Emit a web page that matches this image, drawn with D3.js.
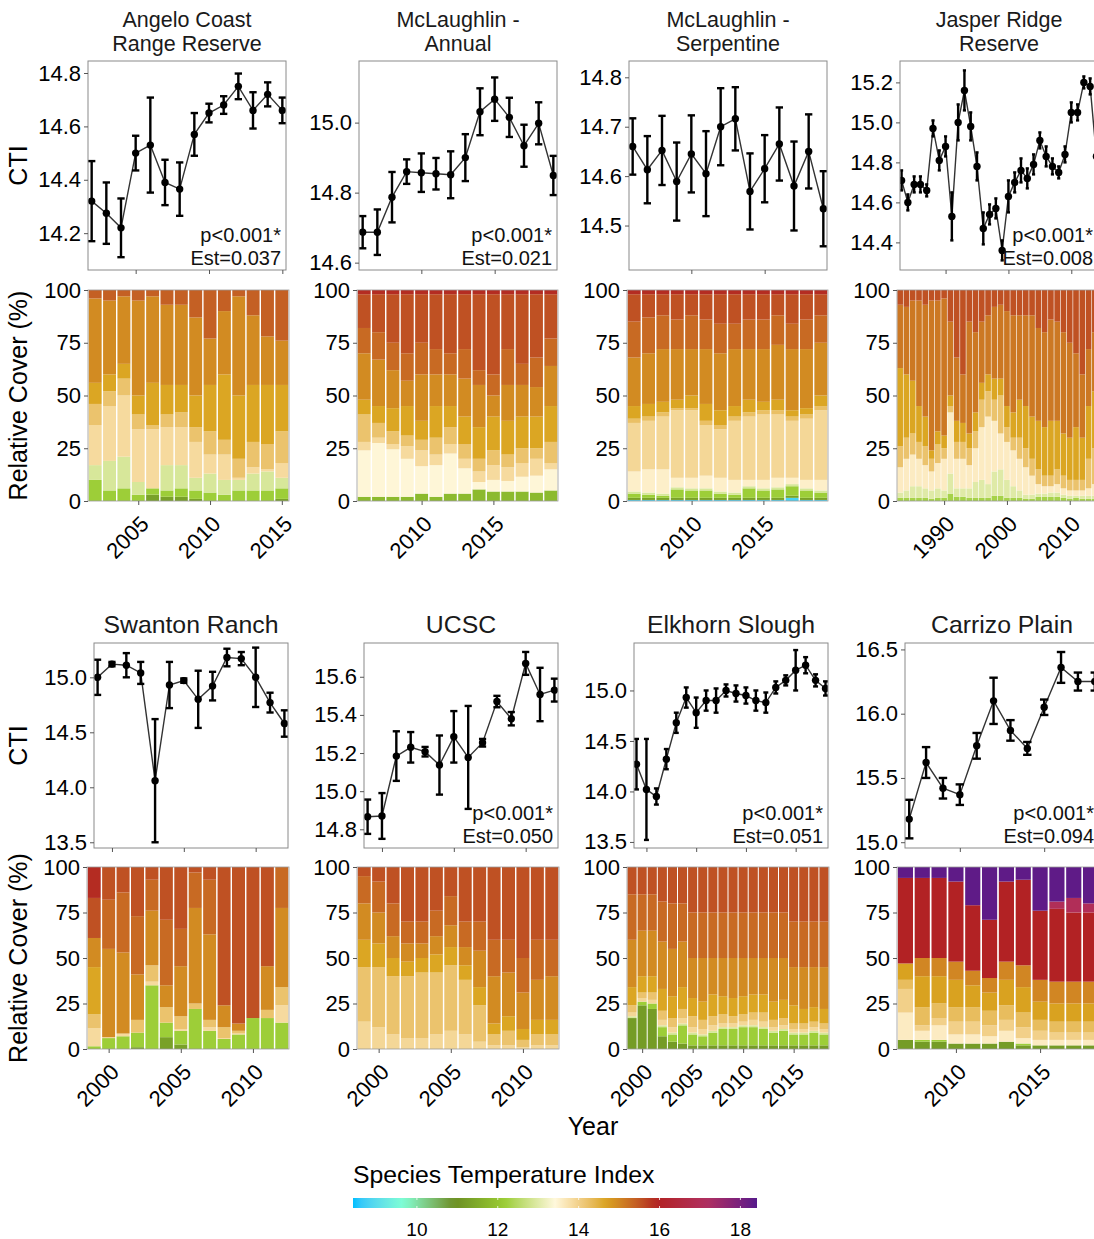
<!DOCTYPE html>
<html>
<head>
<meta charset="utf-8">
<script src="https://cdn.jsdelivr.net/npm/d3@7"></script>
<style>
body { margin: 0; background: #fff; }
svg { display: block; font-family: "Liberation Sans", Arial, sans-serif; }
</style>
</head>
<body>
<svg id="chart" width="1094" height="1239"></svg>
<script>
// ---- data: CTI (mean, +/- error) and relative cover per STI band ----
var angeloStart = 2002;
var angeloCTI = [14.32, 14.275, 14.22, 14.50, 14.53, 14.39, 14.365, 14.57, 14.65, 14.68, 14.75, 14.66, 14.72, 14.66];
var angeloSE  = [0.15, 0.115, 0.11, 0.065, 0.178, 0.085, 0.10, 0.08, 0.035, 0.033, 0.048, 0.068, 0.045, 0.048];
var angeloSTI = [11.3, 12.2, 12.9, 13.85, 14.2, 14.65, 14.95, 15.4];
var angeloCover = [
  [0, 10, 7, 19, 10, 10, 40, 4], [0, 5, 14, 26, 7, 8, 35, 5], [0, 6, 15, 29, 8, 7, 32, 3],
  [0, 3, 6, 25, 7, 9, 45, 5], [3, 3, 0, 28, 2, 20, 41, 3], [2, 3, 12, 18, 6, 14, 38, 7],
  [2, 4, 11, 18, 7, 13, 38, 7], [1, 4, 6, 17, 7, 15, 37, 13], [0, 4, 9, 9, 11, 22, 22, 23],
  [0, 3, 7, 12, 7, 31, 30, 10], [0, 5, 5, 1, 9, 30, 47, 3], [0, 5, 8, 3, 12, 27, 33, 12],
  [0, 5, 9, 1, 12, 28, 23, 22], [1, 5, 5, 7, 15, 22, 21, 24]
];

var mclAnnStart = 2006;
var mclAnnCTI = [14.687, 14.687, 14.787, 14.86, 14.857, 14.854, 14.851, 14.90, 15.031, 15.067, 15.015, 14.934, 14.998, 14.849];
var mclAnnSE  = [0.046, 0.065, 0.072, 0.035, 0.055, 0.045, 0.067, 0.067, 0.067, 0.062, 0.056, 0.06, 0.06, 0.056];
var mclAnnSTI = [11.8, 13.45, 13.85, 14.2, 14.65, 14.95, 15.3, 15.55, 15.85];
var mclAnnCover = [
  [2, 22, 4, 13, 7, 22, 12, 16, 2], [2, 25.5, 2.5, 7, 8, 22, 13, 18, 2], [2, 22.5, 2.5, 6, 11, 18, 13, 23, 2],
  [2, 18, 6, 5, 14, 12, 13, 28, 2], [3.5, 13, 7.5, 5, 9, 22, 15, 23, 2], [2, 15, 5, 8, 15, 15, 12, 26, 2],
  [3.5, 19, 4.5, 8, 10, 15, 10, 28, 2], [3.5, 12, 4.5, 7, 13, 18, 14, 26, 2], [5.5, 3.5, 5, 6, 15, 20, 7, 36, 2],
  [4.5, 5.5, 7, 7, 16, 10, 10, 38, 2], [4.5, 5, 6.5, 6, 16, 17, 17, 26, 2], [4.5, 7, 6.5, 7, 15, 15, 10, 33, 2],
  [4, 8, 8, 5, 15, 14, 14, 30, 2], [5, 10, 3, 10, 17, 19, 13, 21, 2]
];

var mclSerpStart = 2006;
var mclSerpCTI = [14.66, 14.613, 14.652, 14.589, 14.645, 14.605, 14.70, 14.716, 14.569, 14.615, 14.665, 14.58, 14.65, 14.534];
var mclSerpSE  = [0.057, 0.068, 0.07, 0.079, 0.078, 0.086, 0.078, 0.064, 0.077, 0.068, 0.074, 0.09, 0.075, 0.076];
var mclSerpSTI = [8.8, 11.3, 12.2, 12.9, 13.55, 13.9, 14.25, 14.65, 14.95, 15.3, 15.55, 15.85];
var mclSerpCover = [
  [0.5, 1, 2, 1, 9.5, 23, 2, 6, 23, 17, 13, 2], [0.5, 1, 1.5, 1, 11, 23, 2, 6, 24, 17, 11, 2],
  [0.5, 1, 1, 1, 11.5, 25, 2, 5, 25, 16, 10, 2], [0.5, 1, 4, 1, 4.5, 32, 1, 4, 24, 14, 12, 2],
  [0.5, 1, 3.5, 1, 5, 32, 1, 6, 22, 16, 10, 2], [0.5, 1, 3.5, 1, 6, 24, 2, 8, 26, 14, 12, 2],
  [0.5, 1, 2, 1, 6.5, 23, 2, 7, 27, 14, 14, 2], [0.5, 1, 1.5, 1, 6, 28, 2, 5, 27, 12, 14, 2],
  [0.5, 1, 4.5, 1, 3, 30, 2, 6, 24, 14, 12, 2], [0.5, 1, 3.5, 1, 4, 31, 2, 4, 25, 14, 12, 2],
  [0.5, 1, 4, 1, 4.5, 30, 2, 5, 26, 14, 10, 2], [1.5, 1, 4.5, 1, 3, 27, 2, 3, 29, 12, 14, 2],
  [0.5, 1, 3.5, 1, 4, 29, 2, 3, 28, 14, 12, 2], [0.5, 1, 2.5, 1, 5, 33, 2, 5, 25, 13, 10, 2]
];

var jasperStart = 1983;
var jasperCTI = [14.71, 14.60, 14.69, 14.69, 14.66, 14.97, 14.81, 14.88, 14.53, 15.00, 15.16, 14.98, 14.78, 14.47, 14.54, 14.57,
                 14.36, 14.63, 14.70, 14.76, 14.72, 14.79, 14.91, 14.83, 14.78, 14.75, 14.84, 15.05, 15.05, 15.20, 15.18, 14.83];
var jasperSE  = [0.05, 0.04, 0.04, 0.04, 0.03, 0.04, 0.05, 0.05, 0.12, 0.09, 0.10, 0.07, 0.07, 0.08, 0.05, 0.05,
                 0.05, 0.08, 0.05, 0.06, 0.05, 0.05, 0.04, 0.05, 0.04, 0.03, 0.04, 0.05, 0.04, 0.03, 0.04, 0.03];
var jasperSTI = [12.3, 13.0, 13.6, 14.2, 14.65, 15.15, 15.55];
var jasperCover = [
  [1.5, 2.5, 12, 10, 37, 30, 7], [1.5, 3.5, 15, 10, 30, 32, 8], [1.5, 5.5, 15, 10, 25, 38, 5], [1.5, 5.5, 13, 8, 17, 50, 5],
  [1.5, 4.5, 11, 9, 14, 53, 7], [1, 4, 9, 6, 4, 71, 5], [1.5, 4.5, 12, 9, 6, 62, 5], [1.5, 3.5, 15, 5, 6, 65, 4],
  [3.5, 9.5, 29, 3, 5, 35, 15], [2, 4, 14, 8, 10, 30, 32], [2, 4, 14, 8, 9, 23, 40], [1.5, 4.5, 11, 8, 7, 53, 15],
  [1.5, 7.5, 16, 8, 9, 38, 20], [1.5, 8.5, 25, 13, 8, 29, 15], [1.5, 6.5, 32, 12, 8, 28, 12], [2.5, 11.5, 24, 10, 10, 34, 8],
  [2.5, 12.5, 17, 18, 8, 35, 7], [1.5, 8.5, 18, 7, 10, 45, 10], [1.5, 5.5, 17, 6, 12, 46, 12], [1.5, 3.5, 15, 10, 18, 40, 12],
  [1, 2, 13, 9, 20, 43, 12], [1, 2, 9, 8, 20, 48, 12], [2, 1.5, 4.5, 7, 23, 44, 18], [2, 1.5, 3.5, 5, 23, 45, 20],
  [2, 2, 3, 5, 26, 48, 14], [2, 2, 4, 7, 23, 47, 15], [1.5, 1.5, 3, 6, 20, 48, 20], [1, 1.5, 2.5, 5, 20, 45, 25],
  [1.5, 1, 2.5, 5, 25, 35, 30], [1, 1.5, 2.5, 5, 20, 30, 40], [1, 1.5, 3.5, 14, 25, 27, 28], [1, 1.5, 5.5, 17, 27, 28, 20]
];

var swantonStart = 1999;
var swantonCTI = [15.0, 15.12, 15.11, 15.04, 14.06, 14.93, 14.97, 14.80, 14.92, 15.18, 15.17, 15.0, 14.77, 14.58];
var swantonSE  = [0.16, 0.02, 0.11, 0.1, 0.56, 0.21, 0.02, 0.26, 0.13, 0.08, 0.06, 0.27, 0.09, 0.12];
var swantonSTI = [11.3, 12.2, 13.85, 14.2, 14.65, 14.95, 15.3, 15.55, 15.85];
var swantonCover = [
  [0, 1.5, 10, 7.5, 26, 16, 0, 22, 17], [0, 6, 0.5, 0, 0, 48.5, 27, 18, 0], [0, 7, 1.5, 0, 0, 44.5, 33, 14, 0],
  [1, 8, 0, 7, 0, 25, 32, 27, 0], [0, 35, 2, 9, 0, 30, 17, 7, 0], [6.5, 8, 0, 8.5, 0, 12, 36, 29, 0],
  [2.5, 7.5, 1, 7, 0, 27.5, 20.5, 34, 0], [0, 22, 0, 3, 0, 52.5, 19.5, 3, 0], [0, 10, 2, 4, 0, 47, 30, 7, 0],
  [0, 5.5, 0.5, 6, 0, 12, 0, 76, 0], [0, 8, 0.5, 1.5, 0, 4, 0, 86, 0], [0, 17, 0, 0, 0, 0, 0, 83, 0],
  [0, 17, 0, 4.5, 0, 24, 0, 54.5, 0], [0, 14.5, 9.5, 10, 0, 43.5, 22.5, 0, 0]
];

var ucscStart = 1999;
var ucscCTI = [14.866, 14.87, 15.184, 15.23, 15.207, 15.137, 15.285, 15.177, 15.254, 15.47, 15.38, 15.67, 15.507, 15.53];
var ucscSE  = [0.09, 0.12, 0.13, 0.08, 0.025, 0.155, 0.135, 0.27, 0.02, 0.03, 0.035, 0.06, 0.14, 0.06];
var ucscSTI = [13.9, 14.2, 14.65, 14.95, 15.3, 15.55];
var ucscCover = [
  [15, 30, 15, 20, 15, 5], [12, 33, 13, 17, 17, 8], [8, 32, 10, 12, 18, 20], [6, 34, 8, 10, 12, 30],
  [6, 36, 8, 8, 12, 30], [8, 34, 10, 10, 14, 24], [10, 36, 10, 12, 16, 16], [8, 30, 8, 10, 14, 30],
  [4, 20, 10, 20, 16, 30], [2, 6, 6, 26, 20, 40], [2, 8, 8, 24, 18, 40], [1, 4, 6, 20, 19, 50],
  [2, 6, 8, 22, 22, 40], [2, 6, 8, 24, 20, 40]
];

var elkhornStart = 1999;
var elkhornCTI = [14.27, 14.02, 13.95, 14.32, 14.68, 14.93, 14.78, 14.9, 14.9, 15.0, 14.97, 14.95, 14.9, 14.88, 15.03, 15.1, 15.2, 15.25, 15.1, 15.02];
var elkhornSE  = [0.25, 0.5, 0.08, 0.1, 0.1, 0.1, 0.15, 0.1, 0.12, 0.06, 0.08, 0.08, 0.1, 0.1, 0.06, 0.05, 0.2, 0.08, 0.06, 0.07];
var elkhornSTI = [11.2, 12.2, 12.9, 13.9, 14.2, 14.65, 14.95, 15.3, 15.55];
var elkhornCover = [
  [17, 0, 1, 2, 4, 10, 26, 25, 15], [24, 2, 0, 2, 3, 9, 25, 20, 15], [22, 3, 0, 2, 4, 9, 25, 20, 15], [7, 5, 1, 3, 5, 12, 26, 22, 19],
  [4, 4, 1, 3, 5, 12, 26, 25, 20], [3, 10, 1, 3, 5, 12, 25, 21, 20], [2, 6, 1, 3, 6, 10, 22, 25, 25], [2, 5, 1, 3, 5, 10, 24, 25, 25],
  [2, 7, 1, 3, 5, 12, 20, 25, 25], [2, 9, 1, 2, 5, 10, 21, 25, 25], [2, 9, 1, 2, 4, 10, 22, 25, 25], [2, 10, 1, 2, 4, 10, 21, 25, 25],
  [2, 10, 1, 3, 4, 10, 20, 25, 25], [2, 9, 1, 3, 5, 10, 20, 25, 25], [2, 7, 1, 2, 4, 10, 24, 25, 25], [2, 8, 1, 2, 4, 10, 23, 25, 25],
  [2, 6, 1, 2, 3, 10, 21, 25, 30], [2, 6, 1, 2, 3, 8, 23, 25, 30], [2, 7, 1, 2, 3, 8, 22, 25, 30], [2, 6, 1, 2, 3, 8, 23, 25, 30]
];

var carrizoStart = 2007;
var carrizoCTI = [15.18, 15.62, 15.42, 15.37, 15.75, 16.1, 15.87, 15.73, 16.05, 16.36, 16.25, 16.25];
var carrizoSE  = [0.15, 0.12, 0.08, 0.08, 0.1, 0.18, 0.08, 0.05, 0.06, 0.12, 0.07, 0.07];
var carrizoSTI = [11.2, 12.2, 13.6, 14.0, 14.3, 14.7, 15.0, 15.95, 17.0, 18.3];
var carrizoCover = [
  [5, 0, 15, 13, 5, 9, 0, 47, 0, 6], [4, 1, 5, 3, 10, 17, 10, 44, 0, 6], [4, 1, 8, 4, 8, 15, 10, 44, 0, 6],
  [3, 0, 5, 7, 8, 15, 10, 44, 0, 8], [3, 0, 5, 7, 8, 12, 8, 36, 0, 21], [3, 0, 4, 6, 8, 10, 8, 32, 0, 29],
  [4, 0, 6, 6, 8, 14, 10, 44, 0, 8], [2, 1, 3, 6, 8, 14, 12, 47, 0, 7], [2, 0, 3, 5, 6, 10, 12, 38, 0, 24],
  [2, 0, 3, 4, 6, 10, 12, 40, 4, 19], [2, 0, 3, 4, 6, 10, 12, 38, 8, 17], [2, 0, 3, 4, 6, 10, 12, 38, 5, 20]
];

var legendTicks = [10, 12, 14, 16, 18];
var coverTicks = [0, 25, 50, 75, 100];

var panels = [
  {title: ["Angelo Coast", "Range Reserve"], start: angeloStart, cti: angeloCTI, se: angeloSE, sti: angeloSTI, cover: angeloCover,
   ylim: [14.062, 14.845], yticks: [14.2, 14.4, 14.6, 14.8], xticks: [2005, 2010, 2015], stat: ["p<0.001*", "Est=0.037"]},
  {title: ["McLaughlin -", "Annual"], start: mclAnnStart, cti: mclAnnCTI, se: mclAnnSE, sti: mclAnnSTI, cover: mclAnnCover,
   ylim: [14.579, 15.176], yticks: [14.6, 14.8, 15.0], xticks: [2010, 2015], stat: ["p<0.001*", "Est=0.021"]},
  {title: ["McLaughlin -", "Serpentine"], start: mclSerpStart, cti: mclSerpCTI, se: mclSerpSE, sti: mclSerpSTI, cover: mclSerpCover,
   ylim: [14.41, 14.833], yticks: [14.5, 14.6, 14.7, 14.8], xticks: [2010, 2015], stat: null},
  {title: ["Jasper Ridge", "Reserve"], start: jasperStart, cti: jasperCTI, se: jasperSE, sti: jasperSTI, cover: jasperCover,
   ylim: [14.262, 15.307], yticks: [14.4, 14.6, 14.8, 15.0, 15.2], xticks: [1990, 2000, 2010], stat: ["p<0.001*", "Est=0.008"]},
  {title: ["Swanton Ranch"], start: swantonStart, cti: swantonCTI, se: swantonSE, sti: swantonSTI, cover: swantonCover,
   ylim: [13.448, 15.312], yticks: [13.5, 14.0, 14.5, 15.0], xticks: [2000, 2005, 2010], stat: null},
  {title: ["UCSC"], start: ucscStart, cti: ucscCTI, se: ucscSE, sti: ucscSTI, cover: ucscCover,
   ylim: [14.702, 15.777], yticks: [14.8, 15.0, 15.2, 15.4, 15.6], xticks: [2000, 2005, 2010], stat: ["p<0.001*", "Est=0.050"]},
  {title: ["Elkhorn Slough"], start: elkhornStart, cti: elkhornCTI, se: elkhornSE, sti: elkhornSTI, cover: elkhornCover,
   ylim: [13.44, 15.47], yticks: [13.5, 14.0, 14.5, 15.0], xticks: [2000, 2005, 2010, 2015], stat: ["p<0.001*", "Est=0.051"]},
  {title: ["Carrizo Plain"], start: carrizoStart, cti: carrizoCTI, se: carrizoSE, sti: carrizoSTI, cover: carrizoCover,
   ylim: [14.955, 16.55], yticks: [15.0, 15.5, 16.0, 16.5], xticks: [2010, 2015], stat: ["p<0.001*", "Est=0.094"]}
];

// ---- layout ----
var rows = [
  {titleY: [27, 51], ctiY: 61, ctiH: 209, barY: 290, barH: 211, ctiX: [88, 359, 629, 900], ctiW: 198,
   barX: [88, 357, 627, 897], barW: 201, font: 22, titleFont: 21.5},
  {titleY: [633], ctiY: 643, ctiH: 205, barY: 867, barH: 182, ctiX: [94, 364, 634, 905], ctiW: 194,
   barX: [87, 357, 627, 897], barW: 202, font: 22, titleFont: 24.8}
];

var svg = d3.select("#chart");

// colour scale as in scale_fill_gradientn
var stiDomain = [8.42, 18.41];
var stiColors = ["#00BFFF", "#7FFFD4", "#6B8E23", "#9ACD32", "#FFF8DC", "#DAA520", "#B22222", "#B03060", "#551A8B"];
var color = d3.scaleLinear()
    .domain(stiColors.map(function(c, i) { return stiDomain[0] + i * (stiDomain[1] - stiDomain[0]) / (stiColors.length - 1); }))
    .range(stiColors)
    .interpolate(d3.interpolateLab);

function styleAxis(g, size) {
  g.select(".domain").remove();
  g.selectAll(".tick line").attr("stroke", "#555").attr("stroke-width", 1);
  g.selectAll(".tick text").attr("fill", "#000").attr("font-size", size)
    .attr("font-family", "Liberation Sans, Arial, sans-serif");
}

panels.forEach(function(p, idx) {
  var row = rows[Math.floor(idx / 4)], col = idx % 4;
  var n = p.cti.length;
  var years = p.cti.map(function(d, i) { return p.start + i; });
  var cx = row.ctiX[col], cw = row.ctiW, cy = row.ctiY, ch = row.ctiH;
  var bx = row.barX[col], bw = row.barW, by = row.barY, bh = row.barH;
  var g = svg.append("g");

  // title
  var mid = cx + cw / 2;
  p.title.forEach(function(t, j) {
    g.append("text").attr("x", mid).attr("y", row.titleY[j]).attr("text-anchor", "middle")
      .attr("font-size", row.titleFont).attr("fill", "#1a1a1a").text(t);
  });

  // ---- CTI panel ----
  var x = d3.scaleLinear().domain([p.start - 0.25, p.start + n - 1 + 0.25]).range([cx, cx + cw]);
  var y = d3.scaleLinear().domain(p.ylim).range([cy + ch, cy]);
  var clipId = "clip" + idx;
  g.append("clipPath").attr("id", clipId).append("rect")
    .attr("x", cx).attr("y", cy).attr("width", cw).attr("height", ch);
  var plot = g.append("g").attr("clip-path", "url(#" + clipId + ")");

  plot.append("path")
    .datum(p.cti)
    .attr("fill", "none").attr("stroke", "#333").attr("stroke-width", 1.4)
    .attr("d", d3.line().x(function(d, i) { return x(years[i]); }).y(function(d) { return y(d); }));

  var eb = plot.selectAll(".eb").data(p.cti).enter().append("g").attr("class", "eb")
    .attr("stroke", "#000").attr("stroke-width", 2.4);
  eb.append("line")
    .attr("x1", function(d, i) { return x(years[i]); }).attr("x2", function(d, i) { return x(years[i]); })
    .attr("y1", function(d, i) { return y(d - p.se[i]); }).attr("y2", function(d, i) { return y(d + p.se[i]); });
  [-1, 1].forEach(function(s) {
    eb.append("line")
      .attr("x1", function(d, i) { return x(years[i] - 0.25); }).attr("x2", function(d, i) { return x(years[i] + 0.25); })
      .attr("y1", function(d, i) { return y(d + s * p.se[i]); }).attr("y2", function(d, i) { return y(d + s * p.se[i]); });
  });
  plot.selectAll(".pt").data(p.cti).enter().append("circle")
    .attr("cx", function(d, i) { return x(years[i]); }).attr("cy", function(d) { return y(d); })
    .attr("r", 3.7).attr("fill", "#000");

  g.append("rect").attr("x", cx).attr("y", cy).attr("width", cw).attr("height", ch)
    .attr("fill", "none").attr("stroke", "#8a8a8a").attr("stroke-width", 1);

  g.append("g").attr("transform", "translate(" + cx + ",0)")
    .call(d3.axisLeft(y).tickValues(p.yticks).tickSize(4).tickPadding(3).tickFormat(d3.format(".1f")))
    .call(styleAxis, row.font);
  g.append("g").attr("transform", "translate(0," + (cy + ch) + ")")
    .call(d3.axisBottom(x).tickValues(p.xticks).tickSize(4).tickFormat(""))
    .call(styleAxis, row.font);

  if (p.stat) {
    g.append("text").attr("x", cx + cw - 5).attr("y", cy + ch - 28).attr("text-anchor", "end")
      .attr("font-size", 20).attr("fill", "#111").text(p.stat[0]);
    g.append("text").attr("x", cx + cw - 5).attr("y", cy + ch - 5).attr("text-anchor", "end")
      .attr("font-size", 20).attr("fill", "#111").text(p.stat[1]);
  }

  // ---- relative cover stacked bars ----
  var xb = d3.scaleLinear().domain([p.start - 0.5, p.start + n - 0.5]).range([bx, bx + bw]);
  var yb = d3.scaleLinear().domain([0, 100]).range([by + bh, by]);
  var stack = d3.stack().keys(d3.range(p.sti.length))(p.cover);
  var bars = g.append("g");
  stack.forEach(function(layer, k) {
    bars.selectAll(null).data(layer).enter().append("rect")
      .attr("x", function(d, i) { return xb(years[i] - 0.45); })
      .attr("width", function(d, i) { return xb(years[i] + 0.45) - xb(years[i] - 0.45); })
      .attr("y", function(d) { return yb(d[1]); })
      .attr("height", function(d) { return yb(d[0]) - yb(d[1]); })
      .attr("fill", color(p.sti[k]));
  });
  g.append("rect").attr("x", bx).attr("y", by).attr("width", bw).attr("height", bh)
    .attr("fill", "none").attr("stroke", "#999").attr("stroke-width", 0.8);

  g.append("g").attr("transform", "translate(" + bx + ",0)")
    .call(d3.axisLeft(yb).tickValues(coverTicks).tickSize(4).tickPadding(3))
    .call(styleAxis, row.font);
  var xa = g.append("g").attr("transform", "translate(0," + (by + bh) + ")")
    .call(d3.axisBottom(xb).tickValues(p.xticks).tickSize(4).tickFormat(d3.format("d")))
    .call(styleAxis, row.font);
  xa.selectAll(".tick text")
    .attr("text-anchor", "end").attr("dy", null).attr("y", null)
    .attr("dominant-baseline", "central")
    .attr("transform", "translate(6,19) rotate(-45)");

  // y axis titles on first column
  if (col === 0) {
    g.append("text").attr("transform", "translate(18," + (cy + ch / 2) + ") rotate(-90)")
      .attr("text-anchor", "middle").attr("dominant-baseline", "central")
      .attr("font-size", 25).attr("fill", "#000").text("CTI");
    g.append("text").attr("transform", "translate(18," + (by + bh / 2) + ") rotate(-90)")
      .attr("text-anchor", "middle").attr("dominant-baseline", "central")
      .attr("font-size", 25).attr("fill", "#000").text("Relative Cover (%)");
  }
});

// shared x title
svg.append("text").attr("x", 593).attr("y", 1135).attr("text-anchor", "middle")
  .attr("font-size", 25).attr("fill", "#000").text("Year");

// ---- colour bar legend ----
var lx = d3.scaleLinear().domain(stiDomain).range([353, 757]);
var grad = svg.append("defs").append("linearGradient").attr("id", "stiGrad")
  .attr("x1", "0%").attr("x2", "100%").attr("y1", "0%").attr("y2", "0%");
d3.range(0, 1.0001, 0.02).forEach(function(t) {
  grad.append("stop").attr("offset", (t * 100) + "%")
    .attr("stop-color", color(stiDomain[0] + t * (stiDomain[1] - stiDomain[0])));
});
svg.append("text").attr("x", 353).attr("y", 1183).attr("font-size", 24.8).attr("fill", "#000")
  .text("Species Temperature Index");
svg.append("rect").attr("x", lx.range()[0]).attr("y", 1198).attr("width", lx.range()[1] - lx.range()[0])
  .attr("height", 10).attr("fill", "url(#stiGrad)");
var lt = svg.append("g").selectAll("g").data(legendTicks).enter().append("g");
lt.append("line").attr("x1", lx).attr("x2", lx).attr("y1", 1198).attr("y2", 1200)
  .attr("stroke", "#fff").attr("stroke-width", 0.8);
lt.append("line").attr("x1", lx).attr("x2", lx).attr("y1", 1206).attr("y2", 1208)
  .attr("stroke", "#fff").attr("stroke-width", 0.8);
lt.append("text").attr("x", lx).attr("y", 1236).attr("text-anchor", "middle")
  .attr("font-size", 19).attr("fill", "#000").text(function(d) { return d; });
</script>
</body>
</html>
